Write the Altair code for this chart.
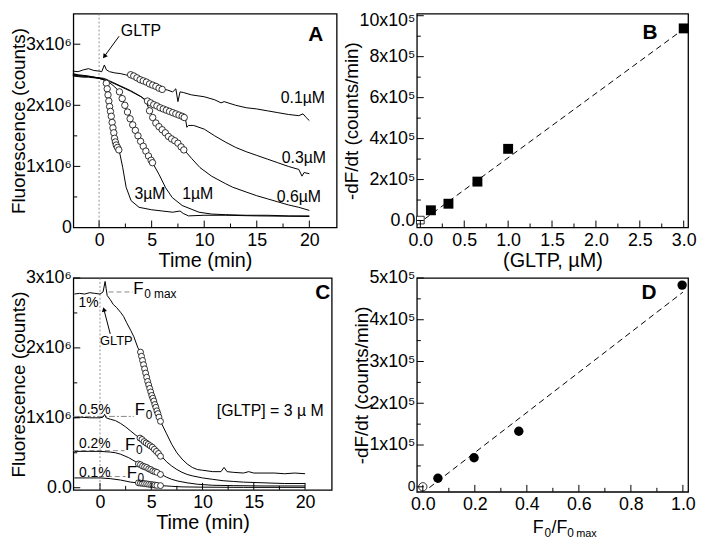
import altair as alt
import pandas as pd

FONT = "Liberation Sans"

# ---------------- Panel A : time (min) vs fluorescence (10^6 counts) ----------------
A_t_01 = [-2.5, -2.0, -1.5, -1.0, -0.5, 0.0, 0.25, 0.5, 0.7, 1.0, 1.5, 2.0, 2.5, 3.0, 4.0, 5.0, 6.0, 6.5, 7.0,
          7.3, 7.5, 7.7, 8.0, 8.8, 10.0, 11.0, 11.6, 11.9, 13.0, 14.0, 15.0, 16.0, 17.0, 18.0, 19.0, 19.4, 19.7, 20.0]
A_v_01 = [2.56, 2.55, 2.58, 2.60, 2.57, 2.56, 2.55, 2.66, 2.58, 2.55, 2.53, 2.52, 2.50, 2.48, 2.41, 2.34, 2.27, 2.25, 2.22,
          2.27, 2.06, 2.22, 2.21, 2.17, 2.14, 2.09, 2.04, 2.06, 2.00, 1.96, 1.94, 1.91, 1.88, 1.85, 1.83, 1.86, 1.80, 1.75]
A_t_03 = [-2.5, -2.0, -1.5, -1.0, -0.5, 0.0, 0.5, 1.0, 2.0, 3.0, 4.0, 4.5, 5.0, 6.0, 7.0, 8.0, 8.2, 8.35, 8.5, 9.0,
          10.0, 11.0, 12.0, 13.0, 14.0, 15.0, 16.0, 17.0, 18.0, 19.0, 19.3, 19.5, 20.0]
A_v_03 = [2.50, 2.49, 2.48, 2.47, 2.46, 2.45, 2.44, 2.40, 2.32, 2.24, 2.14, 2.08, 2.03, 1.96, 1.89, 1.82, 1.80, 1.64, 1.67, 1.67,
          1.61, 1.50, 1.40, 1.31, 1.24, 1.18, 1.12, 1.06, 1.00, 0.95, 0.84, 0.90, 0.88]
A_t_06 = [-2.5, -2.0, -1.5, -1.0, -0.5, 0.0, 0.5, 1.0, 2.0, 3.0, 4.0, 4.4, 4.8, 5.4, 6.0, 6.6, 7.3, 7.7, 8.1, 8.8,
          9.6, 10.7, 12.0, 12.7, 14.0, 15.0, 16.0, 17.0, 18.0, 19.0, 20.0]
A_v_06 = [2.48, 2.47, 2.46, 2.46, 2.45, 2.44, 2.42, 2.39, 2.31, 2.23, 2.14, 2.08, 1.92, 1.71, 1.60, 1.49, 1.41, 1.33, 1.27, 1.13,
          0.98, 0.84, 0.72, 0.66, 0.58, 0.52, 0.47, 0.42, 0.37, 0.33, 0.28]
A_t_1 = [-2.5, -2.0, -1.0, 0.0, 0.5, 1.0, 1.5, 1.94, 2.57, 3.2, 3.8, 4.45, 5.08, 5.7, 6.33, 6.96, 7.9, 9.5, 10.7,
         12.0, 14.0, 16.0, 18.0, 20.0]
A_v_1 = [2.49, 2.48, 2.47, 2.45, 2.42, 2.37, 2.30, 2.22, 1.95, 1.68, 1.46, 1.25, 1.06, 0.87, 0.65, 0.49, 0.36, 0.25, 0.22,
         0.21, 0.20, 0.20, 0.19, 0.19]
A_t_3 = [-2.5, -2.0, -1.0, 0.0, 0.4, 0.69, 1.0, 1.32, 1.63, 1.9, 2.25, 2.57, 3.04, 3.8, 5.0, 6.0, 7.0, 7.7, 8.0, 8.5,
         10.0, 12.0, 15.0, 20.0]
A_v_3 = [2.52, 2.50, 2.48, 2.44, 2.42, 2.36, 1.98, 1.63, 1.35, 1.27, 0.98, 0.66, 0.44, 0.33, 0.29, 0.27, 0.25, 0.27, 0.23, 0.19,
         0.20, 0.20, 0.19, 0.18]

A_ct_01 = [3.0, 3.3, 3.6, 3.9, 4.2, 4.5, 4.8, 5.1, 5.4, 5.7, 6.0]
A_cv_01 = [2.50, 2.48, 2.45, 2.42, 2.40, 2.38, 2.35, 2.33, 2.31, 2.28, 2.26]
A_ct_03 = [4.6, 4.9, 5.2, 5.5, 5.8, 6.1, 6.4, 6.7, 7.0, 7.3, 7.6, 7.9, 8.1]
A_cv_03 = [2.07, 2.04, 2.01, 1.99, 1.96, 1.94, 1.92, 1.90, 1.88, 1.86, 1.84, 1.82, 1.80]
A_ct_06 = [4.8, 5.1, 5.4, 5.7, 6.0, 6.3, 6.6, 6.9, 7.2, 7.5, 7.8, 8.06]
A_cv_06 = [1.91, 1.80, 1.71, 1.65, 1.60, 1.55, 1.49, 1.45, 1.42, 1.38, 1.32, 1.27]
A_ct_1 = [1.94, 2.2, 2.45, 2.7, 2.95, 3.2, 3.45, 3.7, 3.95, 4.2, 4.45, 4.7, 4.95, 5.08]
A_cv_1 = [2.22, 2.11, 2.00, 1.89, 1.78, 1.68, 1.59, 1.50, 1.41, 1.33, 1.25, 1.17, 1.10, 1.06]
A_ct_3 = [0.69, 0.77, 0.85, 0.93, 1.0, 1.08, 1.16, 1.24, 1.32, 1.40, 1.47, 1.55, 1.63, 1.75, 1.88]
A_cv_3 = [2.36, 2.27, 2.17, 2.07, 1.98, 1.90, 1.82, 1.72, 1.63, 1.55, 1.46, 1.40, 1.35, 1.31, 1.27]

# ---------------- Panel B : GLTP (uM) vs -dF/dt (10^5 counts/min) ----------------
B_gltp = [0.12, 0.32, 0.65, 1.0, 3.0]
B_rate = [0.50, 0.82, 1.90, 3.50, 9.38]
B_open_gltp = [0.0]
B_open_rate = [0.02]
B_fit_x = [0.05, 3.0]
B_fit_y = [0.08, 9.35]

# ---------------- Panel C : time (min) vs fluorescence (10^6 counts) ----------------
C_t_1 = [-2.5, -2.0, -1.5, -1.0, -0.5, 0.0, 0.3, 0.5, 0.6, 0.7, 1.0, 1.3, 1.6, 2.0, 2.3, 2.6, 3.0, 3.3, 3.7, 4.0, 4.5,
         5.0, 5.5, 6.0, 6.5, 7.0, 7.5, 8.0, 8.5, 9.0, 9.5, 10.0, 11.0, 11.8, 12.1, 12.4, 13.0, 14.0, 14.5, 15.0, 16.0,
         17.0, 18.0, 19.0, 20.0]
C_v_1 = [2.77, 2.78, 2.77, 2.79, 2.78, 2.77, 2.80, 2.95, 2.85, 2.75, 2.69, 2.62, 2.58, 2.51, 2.45, 2.36, 2.25, 2.16, 2.00,
         1.93, 1.63, 1.37, 1.14, 0.92, 0.77, 0.62, 0.50, 0.41, 0.34, 0.29, 0.26, 0.25, 0.23, 0.23, 0.29, 0.23, 0.22, 0.21,
         0.23, 0.21, 0.21, 0.21, 0.20, 0.21, 0.20]
C_t_05 = [-2.5, -2.0, -1.0, 0.0, 0.3, 0.45, 0.6, 1.0, 1.5, 2.0, 2.5, 3.0, 3.5, 4.0, 4.5, 5.0, 5.5, 6.0, 6.5, 7.0, 7.5,
          8.0, 8.5, 9.0, 10.0, 11.0, 12.0, 13.0, 14.0, 16.0, 18.0, 20.0]
C_v_05 = [1.00, 1.01, 1.00, 1.00, 1.01, 1.05, 1.00, 0.98, 0.96, 0.92, 0.87, 0.81, 0.75, 0.70, 0.65, 0.59, 0.52, 0.45, 0.37,
          0.31, 0.26, 0.22, 0.19, 0.17, 0.14, 0.12, 0.10, 0.09, 0.08, 0.07, 0.06, 0.06]
C_t_02 = [-2.5, -1.0, 0.0, 1.0, 1.5, 2.0, 2.8, 3.5, 4.0, 4.5, 5.0, 5.5, 6.0, 6.5, 7.0, 7.6, 8.5, 9.5, 11.0, 13.0, 16.0, 20.0]
C_v_02 = [0.52, 0.52, 0.52, 0.51, 0.50, 0.48, 0.43, 0.37, 0.33, 0.30, 0.26, 0.23, 0.19, 0.15, 0.12, 0.095, 0.07, 0.05,
          0.035, 0.03, 0.025, 0.025]
C_t_01 = [-2.5, -1.0, 0.0, 1.0, 2.0, 3.0, 4.0, 5.0, 6.0, 7.0, 8.0, 10.0, 14.0, 20.0]
C_v_01 = [0.14, 0.14, 0.14, 0.13, 0.11, 0.08, 0.065, 0.05, 0.03, 0.02, 0.012, 0.008, 0.005, 0.005]

C_ct_1 = [3.95, 4.05, 4.15, 4.25, 4.35, 4.45, 4.55, 4.65, 4.75, 4.85, 4.95, 5.05, 5.15, 5.25, 5.35, 5.45, 5.55, 5.65, 5.75, 5.9]
C_cv_1 = [1.94, 1.88, 1.82, 1.76, 1.70, 1.64, 1.58, 1.52, 1.47, 1.42, 1.37, 1.32, 1.28, 1.24, 1.19, 1.15, 1.10, 1.06, 1.01, 0.95]
C_ct_05 = [3.9, 4.1, 4.3, 4.5, 4.7, 4.9, 5.1, 5.3, 5.5, 5.7, 5.9]
C_cv_05 = [0.71, 0.69, 0.66, 0.64, 0.62, 0.60, 0.58, 0.55, 0.52, 0.49, 0.45]
C_ct_02 = [3.75, 3.95, 4.15, 4.35, 4.55, 4.75, 4.95, 5.15, 5.35, 5.55, 5.9]
C_cv_02 = [0.34, 0.33, 0.31, 0.30, 0.29, 0.27, 0.26, 0.24, 0.23, 0.22, 0.19]
C_ct_01 = [3.75, 3.95, 4.15, 4.35, 4.55, 4.75, 4.95, 5.15, 5.35, 5.55, 5.9]
C_cv_01 = [0.07, 0.066, 0.062, 0.058, 0.055, 0.05, 0.046, 0.042, 0.038, 0.034, 0.03]

# ---------------- Panel D : F0/F0max vs -dF/dt (10^5 counts/min) ----------------
D_ratio = [0.058, 0.197, 0.369, 0.997]
D_rate = [0.205, 0.695, 1.33, 4.83]
D_open_ratio = [0.0]
D_open_rate = [0.0]
D_fit_x = [0.025, 1.0]
D_fit_y = [-0.02, 4.66]


def scale(dom):
    return alt.Scale(domain=dom, nice=False, zero=False)


def axis(values, title, expr=None, label_size=18, pad=4, tpad=1, tsize=20, **extra):
    kw = dict(values=values, title=title, ticks=False, domain=False, grid=False,
              labelFont=FONT, labelFontSize=label_size, labelColor="black", labelPadding=pad,
              titleFont=FONT, titleFontSize=tsize, titleFontWeight="normal", titleColor="black",
              titlePadding=tpad, labelOverlap=False, labelFlush=False)
    if expr is not None:
        kw["labelExpr"] = expr
    kw.update(extra)
    return alt.Axis(**kw)


def long_df(pairs):
    rows = []
    for name, xs, ys in pairs:
        for a, b in zip(xs, ys):
            rows.append({"s": name, "x": a, "y": b})
    return pd.DataFrame(rows)


def ticks(X, Y, xmaj, xmin, ymaj, ymin, h):
    out = []
    for vals, ln in ((ymaj, 7), (ymin, 4)):
        out.append(alt.Chart(pd.DataFrame({"y": vals})).mark_rule(color="black", strokeWidth=1)
                   .encode(y=Y, x=alt.value(0), x2=alt.value(ln)))
    for vals, ln in ((xmaj, 7), (xmin, 4)):
        out.append(alt.Chart(pd.DataFrame({"x": vals})).mark_rule(color="black", strokeWidth=1)
                   .encode(x=X, y=alt.value(h), y2=alt.value(h - ln)))
    return out


def texts(X, Y, xs, ys, labels, size, weight="normal", align="left", dx=0, dy=0):
    df = pd.DataFrame({"x": xs, "y": ys, "t": labels})
    return alt.Chart(df).mark_text(font=FONT, fontSize=size, fontWeight=weight, align=align, dx=dx, dy=dy,
                                   baseline="alphabetic", color="black").encode(x=X, y=Y, text="t:N")


def ptext(px, py, label, size, weight="normal"):
    return alt.Chart(pd.DataFrame({"k": [0]})).mark_text(
        font=FONT, fontSize=size, fontWeight=weight, align="left", baseline="alphabetic", color="black"
    ).encode(x=alt.value(px), y=alt.value(py), text=alt.value(label))


def arrow(X, Y, x0, y0, x1, y1, ang):
    seg = alt.Chart(pd.DataFrame({"x": [x0], "y": [y0], "x2": [x1], "y2": [y1]})).mark_rule(
        color="black", strokeWidth=1).encode(x=X, y=Y, x2="x2:Q", y2="y2:Q")
    head = alt.Chart(pd.DataFrame({"x": [x1], "y": [y1]})).mark_point(
        shape="triangle-up", filled=True, color="black", size=28, angle=ang, opacity=1).encode(x=X, y=Y)
    return [seg, head]


def open_circles(X, Y, df, size):
    return alt.Chart(df).mark_point(shape="circle", filled=True, color="white", stroke="black",
                                    strokeWidth=0.8, size=size, opacity=1).encode(x=X, y=Y, detail="s:N")


# ======== Panel A ========
WA, HA = 266, 216
XA = alt.X("x:Q", scale=scale([-2.45, 22.6]), axis=axis([0, 5, 10, 15, 20], "Time (min)"))
YA = alt.Y("y:Q", scale=scale([0, 3.5]),
           axis=axis([0, 1, 2, 3], "Fluorescence (counts)",
                     "datum.value == 0 ? '0' : datum.value + 'x10\u2076'", pad=2, tpad=-3, tsize=19))
a_lines = long_df([("0.1", A_t_01, A_v_01), ("0.3", A_t_03, A_v_03), ("0.6", A_t_06, A_v_06),
                   ("1", A_t_1, A_v_1), ("3", A_t_3, A_v_3)])
a_circ = long_df([("0.1", A_ct_01, A_cv_01), ("0.3", A_ct_03, A_cv_03), ("0.6", A_ct_06, A_cv_06),
                  ("1", A_ct_1, A_cv_1), ("3", A_ct_3, A_cv_3)])
panelA = alt.layer(
    alt.Chart(pd.DataFrame({"x": [0.0]})).mark_rule(color="#777", strokeDash=[2, 2], strokeWidth=0.8)
    .encode(x=XA),
    alt.Chart(a_lines).mark_line(color="black", strokeWidth=1).encode(x=XA, y=YA, detail="s:N"),
    open_circles(XA, YA, a_circ, 42),
    texts(XA, YA, [17.28, 17.37, 16.9, 3.36, 7.9], [2.03, 1.06, 0.41, 0.465, 0.465],
          ["0.1\u00b5M", "0.3\u00b5M", "0.6\u00b5M", "3\u00b5M", "1\u00b5M"], 16),
    texts(XA, YA, [2.07], [3.14], ["GLTP"], 16),
    texts(XA, YA, [19.9], [3.06], ["A"], 21, "bold"),
    *arrow(XA, YA, 1.9, 3.13, 0.5, 2.80, 217),
    *ticks(XA, YA, [0, 5, 10, 15, 20], [2.5, 7.5, 12.5, 17.5], [1, 2, 3], [0.5, 1.5, 2.5], HA),
).properties(width=WA, height=HA)

# ======== Panel B ========
WB, HB = 274, 216
XB = alt.X("x:Q", scale=scale([-0.04, 3.05]),
           axis=axis([0, 0.5, 1, 1.5, 2, 2.5, 3], "(GLTP, \u00b5M)", "format(datum.value, '.1f')"))
YB = alt.Y("y:Q", scale=scale([-0.34, 10.1]),
           axis=axis([0, 2, 4, 6, 8, 10], "-dF/dt (counts/min)",
                     "datum.value == 0 ? '0.0' : datum.value + 'x10\u2075'", pad=2, tpad=-3, tsize=19,
                     labelOffset={"condition": {"test": "datum.value == 10", "value": 5}, "value": 0}))
panelB = alt.layer(
    alt.Chart(pd.DataFrame({"x": B_fit_x, "y": B_fit_y})).mark_line(color="black", strokeDash=[6, 4], strokeWidth=1)
    .encode(x=XB, y=YB),
    alt.Chart(pd.DataFrame({"x": B_open_gltp, "y": B_open_rate})).mark_point(
        shape="square", filled=True, color="white", stroke="black", strokeWidth=0.8, size=60, opacity=1)
    .encode(x=XB, y=YB),
    alt.Chart(pd.DataFrame({"x": B_gltp, "y": B_rate})).mark_point(
        shape="square", filled=True, color="black", size=100, opacity=1).encode(x=XB, y=YB),
    texts(XB, YB, [2.53], [8.85], ["B"], 21, "bold"),
    *ticks(XB, YB, [0, 0.5, 1, 1.5, 2, 2.5, 3], [0.25, 0.75, 1.25, 1.75, 2.25, 2.75],
           [0, 2, 4, 6, 8, 10], [1, 3, 5, 7, 9], HB),
).properties(width=WB, height=HB)

# ======== Panel C ========
WC, HC = 261, 214
XC = alt.X("x:Q", scale=scale([-2.6, 22.6]), axis=axis([0, 5, 10, 15, 20], "Time (min)"))
YC = alt.Y("y:Q", scale=scale([-0.03, 3.0]),
           axis=axis([0, 1, 2, 3], "Fluorescence (counts)",
                     "datum.value == 0 ? '0.0' : datum.value + 'x10\u2076'", pad=2, tpad=-3, tsize=19))
c_lines = long_df([("1", C_t_1, C_v_1), ("0.5", C_t_05, C_v_05), ("0.2", C_t_02, C_v_02), ("0.1", C_t_01, C_v_01)])
c_circ = long_df([("1", C_ct_1, C_cv_1), ("0.5", C_ct_05, C_cv_05), ("0.2", C_ct_02, C_cv_02), ("0.1", C_ct_01, C_cv_01)])
guide_dash = long_df([("max", [0.84, 3.2], [2.80, 2.80]), ("0.2", [-2.6, 2.4], [0.53, 0.53]),
                      ("0.1", [-0.1, 2.5], [0.16, 0.16])])
guide_dot = long_df([("0.5", [-2.6, 3.3], [1.02, 1.02])])
F_t = [3.25, 3.4, 2.45, 2.6]
F_v = [2.77, 1.04, 0.545, 0.14]
panelC = alt.layer(
    alt.Chart(pd.DataFrame({"x": [0.0]})).mark_rule(color="#777", strokeDash=[2, 2], strokeWidth=0.8)
    .encode(x=XC),
    alt.Chart(guide_dash).mark_line(color="#888", strokeDash=[5, 3], strokeWidth=1).encode(x=XC, y=YC, detail="s:N"),
    alt.Chart(guide_dot).mark_line(color="#888", strokeDash=[6, 2, 2, 2], strokeWidth=1).encode(x=XC, y=YC, detail="s:N"),
    alt.Chart(c_lines).mark_line(color="black", strokeWidth=1).encode(x=XC, y=YC, detail="s:N"),
    open_circles(XC, YC, c_circ, 36),
    texts(XC, YC, [-2.1, -2.05, -2.05, -2.05], [2.58, 1.05, 0.57, 0.16], ["1%", "0.5%", "0.2%", "0.1%"], 14),
    texts(XC, YC, F_t, F_v, ["F", "F", "F", "F"], 17),
    texts(XC, YC, F_t[:1], F_v[:1], ["0 max"], 12, dx=11, dy=4),
    texts(XC, YC, F_t[1:], F_v[1:], ["0", "0", "0"], 12, dx=11, dy=4),
    texts(XC, YC, [0.0], [2.04], ["GLTP"], 13),
    texts(XC, YC, [16.6], [1.03], ["[GLTP] = 3 \u00b5 M"], 16, align="center"),
    texts(XC, YC, [21.0], [2.70], ["C"], 21, "bold"),
    *arrow(XC, YC, 1.0, 2.20, 0.38, 2.55, 346),
    *ticks(XC, YC, [0, 5, 10, 15, 20], [2.5, 7.5, 12.5, 17.5], [0, 1, 2, 3], [0.5, 1.5, 2.5], HC),
).properties(width=WC, height=HC)

# ======== Panel D ========
WD, HD = 274, 216
XD = alt.X("x:Q", scale=scale([-0.023, 1.02]),
           axis=axis([0, 0.2, 0.4, 0.6, 0.8, 1.0], "", "format(datum.value, '.1f')"))
YD = alt.Y("y:Q", scale=scale([-0.12, 5.0]),
           axis=alt.Axis(values=[0, 1, 2, 3, 4, 5], title="-dF/dt (counts/min)", ticks=False, domain=False, grid=False,
                         labelFont=FONT, labelColor="black", labelPadding=2,
                         labelFontSize={"condition": {"test": "datum.value == 0", "value": 14}, "value": 18},
                         labelExpr="datum.value == 0 ? '0' : datum.value + 'x10\u2075'",
                         titleFont=FONT, titleFontSize=19, titleFontWeight="normal", titleColor="black",
                         titlePadding=-3, labelOverlap=False, labelFlush=False))
panelD = alt.layer(
    alt.Chart(pd.DataFrame({"x": D_fit_x, "y": D_fit_y})).mark_line(color="black", strokeDash=[6, 4], strokeWidth=1)
    .encode(x=XD, y=YD),
    alt.Chart(pd.DataFrame({"x": D_open_ratio, "y": D_open_rate})).mark_point(
        shape="circle", filled=True, color="white", stroke="black", strokeWidth=0.8, size=70, opacity=1)
    .encode(x=XD, y=YD),
    alt.Chart(pd.DataFrame({"x": D_ratio, "y": D_rate})).mark_point(
        shape="circle", filled=True, color="black", size=90, opacity=1).encode(x=XD, y=YD),
    texts(XD, YD, [0.841], [4.49], ["D"], 21, "bold"),
    ptext(117, 258, "F", 18), ptext(129, 262, "0", 12), ptext(136, 258, "/F", 18),
    ptext(152, 262, "0", 12), ptext(161, 262, "max", 11),
    *ticks(XD, YD, [0, 0.2, 0.4, 0.6, 0.8, 1.0], [0.1, 0.3, 0.5, 0.7, 0.9],
           [0, 1, 2, 3, 4, 5], [0.5, 1.5, 2.5, 3.5, 4.5], HD),
).properties(width=WD, height=HD)

chart = alt.concat(panelA, panelB, panelC, panelD, columns=2, spacing={"row": 51, "column": 81},
                   bounds="flush").properties(
    padding={"left": 0, "top": 0, "right": 0, "bottom": 0}
).configure_view(stroke="black", strokeWidth=1.3)

chart.save("out.html", embed_options={"renderer": "svg", "actions": False})
